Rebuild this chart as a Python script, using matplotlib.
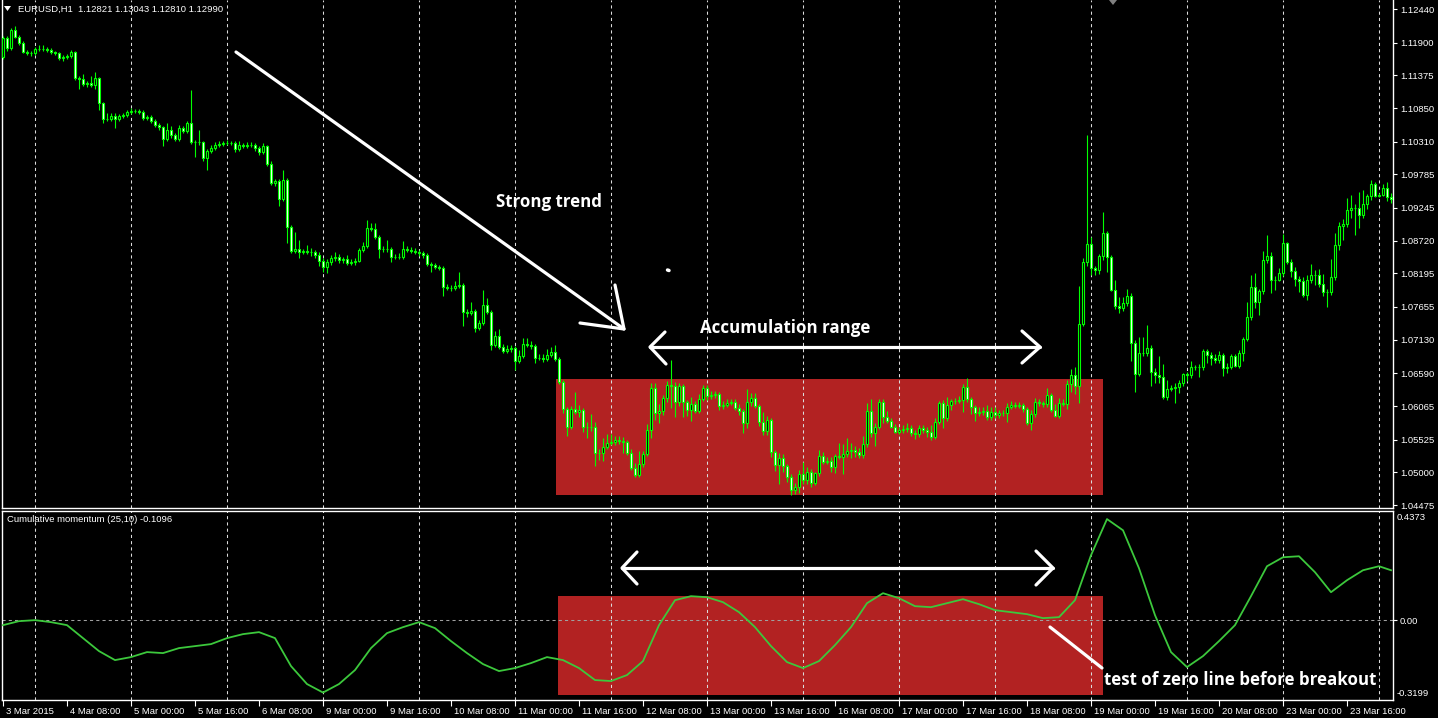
import matplotlib
matplotlib.use("Agg")
import matplotlib.pyplot as plt
from matplotlib.lines import Line2D
from matplotlib.patches import Polygon, Rectangle
import matplotlib.transforms as mtransforms
import numpy as np

# ---------------- data ----------------
symbol_header = "EURUSD,H1  1.12821 1.13043 1.12810 1.12990"
indicator_header = "Cumulative momentum (25,10) -0.1096"

# prices in points above 1.00000 (1 point = 0.00001)
first_open_pts = 11674
close_pts = [
    11969, 11819, 12103, 11995, 11899, 11754, 11738, 11729, 11793, 11802,
    11798, 11782, 11754, 11729, 11658, 11674, 11685, 11749, 11327, 11311,
    11231, 11256, 11219, 11327, 10935, 10669, 10678, 10722, 10673, 10726,
    10738, 10781, 10807, 10797, 10781, 10694, 10710, 10646, 10577, 10540,
    10347, 10497, 10416, 10347, 10524, 10485, 10604, 10309, 10299, 10304,
    10042, 10159, 10212, 10251, 10272, 10283, 10293, 10288, 10187, 10256,
    10240, 10251, 10261, 10208, 10139, 10240, 9946, 9650, 9673, 9384,
    9694, 8944, 8553, 8581, 8542, 8549, 8542, 8537, 8484, 8398,
    8301, 8372, 8446, 8452, 8409, 8425, 8366, 8377, 8400, 8570,
    8634, 8918, 8902, 8783, 8590, 8586, 8581, 8452, 8462, 8462,
    8581, 8570, 8558, 8533, 8517, 8489, 8340, 8329, 8301, 8276,
    7970, 7954, 7964, 7996, 8007, 7569, 7553, 7590, 7312, 7392,
    7686, 7569, 7044, 7188, 7017, 6952, 6980, 6991, 6792, 6872,
    7060, 7049, 7028, 6840, 6840, 6814, 6883, 6927, 6814, 6454,
    6011, 5732, 6011, 5973, 6000, 5732, 5732, 5722, 5314, 5314,
    5401, 5465, 5481, 5518, 5502, 5491, 5314, 5073, 4956, 5128,
    5288, 5679, 6348, 5957, 5984, 6188, 6401, 6390, 6133, 6385,
    6133, 6000, 6091, 5989, 6172, 6348, 6225, 6241, 6252, 6069,
    6085, 6117, 6133, 6037, 5989, 5786, 6133, 6188, 6069, 5812,
    5667, 5839, 5330, 5117, 5234, 5101, 4919, 4715, 4768, 4972,
    4876, 4999, 4832, 4983, 5266, 5170, 5186, 5080, 5261, 5250,
    5293, 5346, 5358, 5330, 5277, 5449, 5984, 5626, 5732, 6124,
    5892, 5828, 5732, 5651, 5679, 5695, 5706, 5626, 5610, 5706,
    5679, 5651, 5571, 5812, 6108, 5867, 6080, 6144, 6149, 6161,
    6364, 6172, 6043, 5947, 5963, 5989, 5883, 5963, 5920, 5957,
    5947, 6053, 6080, 6069, 6075, 6011, 5796, 5936, 6133, 6108,
    6096, 6241, 6000, 5908, 6117, 6104, 6417, 6557, 6390, 7376,
    8372, 8661, 8276, 8248, 8473, 8838, 8452, 7927, 7675, 7633,
    7714, 7836, 7081, 6573, 6911, 6911, 6991, 6615, 6562, 6535,
    6204, 6332, 6348, 6374, 6429, 6578, 6562, 6686, 6686, 6686,
    6947, 6883, 6830, 6803, 6883, 6679, 6695, 6867, 6711, 6911,
    7140, 7489, 7980, 7739, 7911, 8409, 8473, 8088, 8088, 8195,
    8677, 8382, 8237, 8099, 8072, 7847, 8088, 8168, 8168, 8023,
    7900, 7900, 8131, 8650, 8955, 8982, 9212, 9239, 9249, 9132,
    9308, 9437, 9629, 9442, 9453, 9570, 9426, 9384,
]
upper_wick_pts = [
    30, 30, 40, 64, 30, 20, 30, 30, 40, 60,
    60, 30, 30, 20, 20, 20, 30, 30, 20, 30,
    80, 30, 107, 107, 20, 20, 85, 50, 50, 30,
    30, 40, 40, 30, 30, 30, 30, 30, 30, 40,
    20, 117, 60, 30, 60, 40, 40, 535, 30, 187,
    20, 30, 50, 60, 50, 30, 40, 30, 30, 60,
    40, 50, 40, 30, 30, 50, 20, 50, 40, 30,
    160, 30, 30, 277, 150, 40, 100, 60, 40, 50,
    40, 60, 50, 80, 50, 40, 60, 50, 40, 30,
    60, 130, 80, 100, 30, 40, 140, 30, 40, 60,
    130, 60, 50, 50, 40, 40, 30, 40, 40, 30,
    30, 60, 50, 80, 210, 30, 60, 150, 30, 60,
    240, 120, 30, 80, 120, 40, 60, 60, 30, 100,
    100, 100, 60, 30, 60, 60, 90, 80, 120, 30,
    30, 30, 60, 283, 80, 30, 80, 200, 80, 60,
    150, 150, 130, 60, 60, 60, 30, 60, 80, 220,
    60, 90, 80, 80, 120, 60, 60, 400, 60, 50,
    30, 30, 120, 60, 80, 60, 60, 60, 60, 40,
    60, 60, 50, 40, 60, 30, 210, 80, 80, 30,
    150, 60, 30, 30, 80, 60, 30, 50, 60, 60,
    187, 80, 60, 30, 100, 60, 60, 60, 40, 210,
    160, 200, 110, 60, 60, 130, 130, 190, 60, 60,
    60, 90, 50, 40, 50, 60, 80, 50, 60, 60,
    50, 50, 110, 60, 40, 60, 130, 40, 50, 60,
    60, 144, 40, 40, 90, 60, 90, 90, 80, 40,
    40, 60, 60, 50, 50, 40, 30, 60, 60, 40,
    40, 107, 40, 96, 70, 60, 64, 100, 133, 615,
    75, 1755, 123, 40, 40, 337, 40, 40, 160, 145,
    96, 107, 40, 50, 267, 257, 375, 50, 60, 305,
    205, 150, 60, 60, 50, 25, 40, 107, 35, 50,
    40, 40, 50, 64, 64, 40, 60, 40, 40, 53,
    40, 250, 187, 214, 40, 150, 337, 60, 64, 80,
    150, 20, 40, 60, 50, 60, 80, 177, 80, 90,
    160, 50, 290, 187, 70, 80, 187, 214, 60, 246,
    225, 40, 64, 27, 27, 53, 85, 64,
]
lower_wick_pts = [
    30, 50, 30, 20, 30, 20, 40, 50, 30, 30,
    40, 30, 30, 20, 40, 60, 30, 30, 20, 160,
    30, 40, 30, 70, 117, 64, 35, 40, 150, 30,
    30, 30, 30, 30, 30, 30, 30, 30, 30, 40,
    107, 30, 40, 30, 30, 40, 30, 30, 240, 40,
    40, 187, 30, 30, 30, 30, 30, 30, 40, 30,
    30, 30, 30, 40, 40, 30, 30, 30, 60, 100,
    30, 256, 30, 30, 107, 40, 40, 60, 40, 80,
    80, 100, 40, 60, 50, 40, 40, 40, 40, 30,
    30, 30, 30, 40, 144, 40, 40, 80, 30, 30,
    30, 30, 40, 30, 40, 40, 30, 112, 40, 30,
    144, 30, 40, 30, 40, 220, 60, 30, 53, 30,
    30, 30, 80, 30, 40, 40, 30, 40, 144, 30,
    30, 30, 40, 80, 40, 40, 30, 30, 30, 30,
    60, 150, 40, 40, 80, 80, 187, 60, 213, 117,
    140, 30, 30, 40, 40, 180, 40, 40, 37, 30,
    40, 30, 120, 117, 160, 64, 60, 350, 250, 60,
    250, 96, 170, 30, 30, 30, 64, 40, 40, 70,
    50, 40, 40, 40, 64, 150, 80, 60, 40, 64,
    70, 60, 80, 96, 305, 96, 70, 80, 60, 100,
    60, 60, 70, 40, 40, 37, 40, 70, 90, 40,
    277, 40, 112, 80, 40, 40, 40, 64, 200, 40,
    107, 40, 27, 27, 40, 55, 40, 40, 80, 40,
    40, 80, 53, 40, 40, 160, 40, 80, 40, 40,
    200, 40, 107, 117, 40, 40, 40, 40, 40, 40,
    40, 133, 40, 40, 40, 40, 40, 123, 40, 40,
    40, 40, 27, 20, 30, 45, 90, 133, 133, 273,
    30, 53, 107, 80, 70, 64, 230, 20, 53, 70,
    37, 40, 290, 280, 20, 40, 40, 225, 123, 107,
    32, 43, 30, 230, 96, 40, 90, 40, 40, 150,
    40, 133, 107, 40, 40, 133, 80, 40, 17, 40,
    117, 32, 40, 107, 214, 40, 40, 203, 160, 20,
    40, 40, 96, 100, 170, 27, 80, 40, 160, 40,
    70, 240, 53, 40, 80, 225, 40, 123, 430, 214,
    43, 80, 64, 20, 20, 20, 70, 53,
]

price_ticks = [1.12440, 1.11900, 1.11375, 1.10850, 1.10310, 1.09785, 1.09245,
               1.08720, 1.08195, 1.07655, 1.07130, 1.06590, 1.06065, 1.05525,
               1.05000, 1.04475]
price_range = (1.04427, 1.12585)

time_labels = ["3 Mar 2015", "4 Mar 08:00", "5 Mar 00:00", "5 Mar 16:00",
               "6 Mar 08:00", "9 Mar 00:00", "9 Mar 16:00", "10 Mar 08:00",
               "11 Mar 00:00", "11 Mar 16:00", "12 Mar 08:00", "13 Mar 00:00",
               "13 Mar 16:00", "16 Mar 08:00", "17 Mar 00:00", "17 Mar 16:00",
               "18 Mar 08:00", "19 Mar 00:00", "19 Mar 16:00", "20 Mar 08:00",
               "23 Mar 00:00", "23 Mar 16:00"]
time_label_bars = list(range(0, 337, 16))
day_start_bars = list(range(8, 345, 24))

mom_bars = list(range(0, 345, 4)) + [347]
mom_values = [
    -0.020, -0.004, 0.000, -0.008, -0.020, -0.072, -0.124, -0.160, -0.148, -0.128,
    -0.132, -0.112, -0.104, -0.096, -0.072, -0.056, -0.048, -0.072, -0.184, -0.256,
    -0.290, -0.256, -0.200, -0.112, -0.052, -0.028, -0.008, -0.032, -0.084, -0.132,
    -0.176, -0.204, -0.192, -0.172, -0.148, -0.160, -0.192, -0.240, -0.244, -0.220,
    -0.164, -0.020, 0.080, 0.096, 0.092, 0.072, 0.032, -0.028, -0.104, -0.168,
    -0.192, -0.164, -0.100, -0.028, 0.068, 0.108, 0.088, 0.056, 0.052, 0.068,
    0.084, 0.064, 0.040, 0.032, 0.024, 0.008, 0.012, 0.080, 0.260, 0.405,
    0.360, 0.208, 0.020, -0.128, -0.188, -0.144, -0.084, -0.020, 0.096, 0.216,
    0.252, 0.256, 0.192, 0.112, 0.160, 0.200, 0.216, 0.200,
]
mom_range = (-0.3199, 0.4373)
mom_top_label, mom_zero_label, mom_bottom_label = "0.4373", "0.00", "-0.3199"

accum_bar_span = (138.25, 275.0)
accum_price_span = (1.04635, 1.06498)
accum_mom_span = (-0.299, 0.098)

annot_trend = "Strong trend"
annot_range = "Accumulation range"
annot_test = "test of zero line before breakout"

# ---------------- figure ----------------
W, H = 1438, 718
LIME = "#00ff00"
RED = "#b22222"
GRID = "#dcdcdc"
TICKFONT = "Liberation Sans"
TSIZE = 6.8

fig = plt.figure(figsize=(W / 100, H / 100), dpi=100, facecolor="black")


def fx(px):
    return px / W


def fy(py):
    return 1 - py / H


ax = fig.add_axes([fx(2), fy(508), fx(1393) - fx(2), fy(0) - fy(508)])
ax2 = fig.add_axes([fx(2), fy(700), fx(1393) - fx(2), fy(511) - fy(700)])

xlim = ((2 - 3) / 4.0, (1393 - 3) / 4.0)
for a in (ax, ax2):
    a.set_facecolor("black")
    a.set_xlim(*xlim)
    for s in a.spines.values():
        s.set_color("white")
        s.set_linewidth(1.0)
ax.spines["top"].set_visible(False)

# candles
closes = 1 + np.array(close_pts, dtype=float) / 1e5
opens = np.concatenate([[1 + first_open_pts / 1e5], closes[:-1]])
n = min(len(closes), len(upper_wick_pts), len(lower_wick_pts))
closes, opens = closes[:n], opens[:n]
highs = np.maximum(opens, closes) + np.array(upper_wick_pts[:n]) / 1e5
lows = np.minimum(opens, closes) - np.array(lower_wick_pts[:n]) / 1e5
xb = np.arange(n)
bull = closes >= opens

ax.add_patch(Rectangle((accum_bar_span[0], accum_price_span[0]),
                       accum_bar_span[1] - accum_bar_span[0],
                       accum_price_span[1] - accum_price_span[0],
                       facecolor=RED, edgecolor="none", zorder=1))
for b in day_start_bars:
    ax.axvline(b, color=GRID, lw=0.75, ls=(0, (3, 3)), zorder=2)
ax.vlines(xb, lows, highs, color=LIME, lw=0.8, zorder=3)
ax.bar(xb, np.abs(closes - opens), bottom=np.minimum(opens, closes), width=0.5,
       color=["black" if u else "white" for u in bull], edgecolor=LIME,
       linewidth=0.8, zorder=4)
ax.set_ylim(*price_range)
ax.set_xticks([])
ax.yaxis.tick_right()
ax.set_yticks(price_ticks)
ax.set_yticklabels([f"{v:.5f}" for v in price_ticks])
ax.tick_params(axis="y", colors="white", length=3, width=0.8, pad=2,
               labelsize=TSIZE)
for lab in ax.get_yticklabels():
    lab.set_fontfamily(TICKFONT)

# indicator
ax2.add_patch(Rectangle((accum_bar_span[0] + 0.5, accum_mom_span[0]),
                        accum_bar_span[1] - accum_bar_span[0] - 0.5,
                        accum_mom_span[1] - accum_mom_span[0],
                        facecolor=RED, edgecolor="none", zorder=1))
for b in day_start_bars:
    ax2.axvline(b, color=GRID, lw=0.75, ls=(0, (3, 3)), zorder=2)
ax2.axhline(0, color="#a0a0a0", lw=0.75, ls=(0, (3, 3)), zorder=2)
ax2.plot(mom_bars[:len(mom_values)], mom_values, color="#3cc83c", lw=1.3,
         solid_joinstyle="round", zorder=4)
ax2.set_ylim(*mom_range)
ax2.yaxis.tick_right()
ax2.set_yticks([0.0])
ax2.set_yticklabels([mom_zero_label])
ax2.tick_params(axis="y", colors="white", length=3, width=0.8, pad=2,
                labelsize=TSIZE)
ax2.set_xticks(time_label_bars)
ax2.set_xticklabels(time_labels)
ax2.tick_params(axis="x", colors="white", length=4, width=0.8, pad=1,
                labelsize=TSIZE, direction="out")
offset = mtransforms.ScaledTranslation(2 / 72.0, 0, fig.dpi_scale_trans)
for lab in ax2.get_xticklabels():
    lab.set_horizontalalignment("left")
    lab.set_fontfamily(TICKFONT)
    lab.set_transform(lab.get_transform() + offset)
for lab in ax2.get_yticklabels():
    lab.set_fontfamily(TICKFONT)

fig.text(fx(1397), fy(517), mom_top_label, color="white", fontsize=TSIZE,
         family=TICKFONT, va="center", ha="left")
fig.text(fx(1397), fy(693), mom_bottom_label, color="white", fontsize=TSIZE,
         family=TICKFONT, va="center", ha="left")

# headers
fig.text(fx(18), fy(9), symbol_header, color="white", fontsize=TSIZE,
         family=TICKFONT, va="center", ha="left")
fig.patches.append(Polygon([(fx(4), fy(6)), (fx(11), fy(6)), (fx(7.5), fy(11))],
                           closed=True, transform=fig.transFigure,
                           facecolor="white", edgecolor="none"))
fig.text(fx(7), fy(519), indicator_header, color="white", fontsize=TSIZE,
         family=TICKFONT, va="center", ha="left")
fig.patches.append(Polygon([(fx(1109), fy(0)), (fx(1117), fy(0)), (fx(1113), fy(5))],
                           closed=True, transform=fig.transFigure,
                           facecolor="#808080", edgecolor="none"))


# annotations (figure pixel positions)
def draw(points, lw=2.3):
    xs = [fx(p[0]) for p in points]
    ys = [fy(p[1]) for p in points]
    fig.add_artist(Line2D(xs, ys, transform=fig.transFigure, color="white",
                          lw=lw, solid_capstyle="round",
                          solid_joinstyle="round", zorder=10))


draw([(236, 52), (624, 329)])
draw([(580, 323), (624, 329), (615, 285)])
draw([(650, 347), (1040, 347)])
draw([(665, 332), (650, 347), (666, 364)])
draw([(1022, 331), (1040, 347), (1022, 363)])
draw([(622, 568), (1053, 568)])
draw([(637, 552), (622, 568), (637, 584)])
draw([(1036, 551), (1053, 568), (1036, 585)])
draw([(1050, 627), (1102, 668)])
draw([(667.5, 270), (669, 270.5)], lw=2.5)

tkw = dict(color="white", fontsize=12.2, fontweight="bold", family="Open Sans",
           va="center", ha="left")
fig.text(fx(496), fy(202), annot_trend, **tkw)
fig.text(fx(700), fy(328), annot_range, **tkw)
fig.text(fx(1104), fy(680), annot_test, **tkw)

fig.savefig("out.png", dpi=100, facecolor="black")
